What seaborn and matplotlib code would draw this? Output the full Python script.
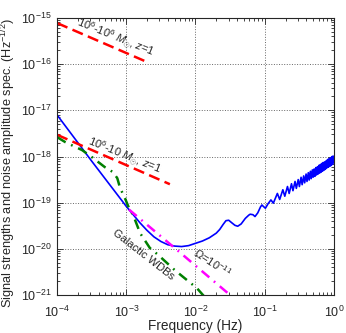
import numpy as np
import pandas as pd
import matplotlib
matplotlib.use("Agg")
import matplotlib.pyplot as plt
import matplotlib.ticker as mticker
import seaborn as sns

# ---- data (log10 of frequency / amplitude) ----
# detector noise curve, smooth part + first visible wiggles
blue_logf = [-4.0, -3.5, -3.0, -2.9, -2.8, -2.7, -2.6, -2.5, -2.4, -2.3, -2.2,
             -2.1, -2.0, -1.9, -1.8, -1.7, -1.65, -1.6, -1.56, -1.52, -1.48,
             -1.43, -1.39, -1.34, -1.28, -1.23, -1.21, -1.17, -1.14, -1.10,
             -1.06, -1.04, -1.02, -0.99, -0.95, -0.91, -0.875]
blue_logh = [-17.10, -18.10, -19.08, -19.26, -19.44, -19.60, -19.74, -19.84,
             -19.91, -19.94, -19.95, -19.93, -19.88, -19.83, -19.76, -19.66,
             -19.58, -19.47, -19.39, -19.38, -19.43, -19.49, -19.51, -19.46,
             -19.34, -19.27, -19.25, -19.26, -19.30, -19.22, -19.09, -19.05,
             -19.08, -19.12, -19.02, -18.94, -19.01]
# dense oscillations above ~0.15 Hz: peak / dip pairs (Hz, log10 h)
peak_f = [0.1525, 0.183, 0.2135, 0.244, 0.2745, 0.305, 0.3355, 0.366, 0.3965,
          0.427, 0.4575, 0.488, 0.5185, 0.549, 0.5795, 0.61, 0.6405, 0.671,
          0.7015, 0.732, 0.7625, 0.793, 0.8235, 0.854, 0.8845, 0.915, 0.9455,
          0.976]
peak_h = [-18.80, -18.72, -18.65, -18.59, -18.54, -18.50, -18.45, -18.42,
          -18.38, -18.35, -18.32, -18.29, -18.27, -18.24, -18.22, -18.19,
          -18.17, -18.15, -18.13, -18.12, -18.10, -18.08, -18.06, -18.05,
          -18.03, -18.02, -18.00, -17.99]
dip_f = [0.1647, 0.1952, 0.2257, 0.2562, 0.2867, 0.3172, 0.3477, 0.3782,
         0.4087, 0.4392, 0.4697, 0.5002, 0.5307, 0.5612, 0.5917, 0.6222,
         0.6527, 0.6832, 0.7137, 0.7442, 0.7747, 0.8052, 0.8357, 0.8662,
         0.8967, 0.9272, 0.9577, 1.0]
dip_h = [-18.93, -18.86, -18.80, -18.74, -18.69, -18.65, -18.61, -18.57,
         -18.54, -18.51, -18.48, -18.45, -18.43, -18.40, -18.38, -18.36,
         -18.34, -18.32, -18.30, -18.28, -18.26, -18.24, -18.23, -18.21,
         -18.20, -18.18, -18.17, -18.12]

# massive BH binaries (red dashed)
mbh1_logf = [-4.0, -2.69]
mbh1_logh = [-15.11, -15.96]
mbh2_logf = [-4.0, -2.37]
mbh2_logh = [-17.53, -18.60]

# galactic white dwarf binaries (green dash-dot)
wdb_logf = [-4.0, -3.88, -3.74, -3.64, -3.50, -3.31, -3.19, -3.13, -3.09,
            -3.02, -2.96, -2.90, -2.80, -2.66, -2.54, -2.30, -2.12, -1.98, -1.88]
wdb_logh = [-17.58, -17.69, -17.79, -17.86, -18.01, -18.23, -18.34, -18.47,
            -18.68, -18.90, -19.12, -19.27, -19.66, -19.98, -20.13, -20.46,
            -20.68, -20.85, -21.02]

# stochastic background Omega = 1e-11 (magenta dash-dot)
sgwb_logf = [-2.96, -2.27, -1.50]
sgwb_logh = [-19.15, -20.02, -21.00]

y_ticks = [1e-21, 1e-20, 1e-19, 1e-18, 1e-17, 1e-16, 1e-15]
x_ticks = [1e-4, 1e-3, 1e-2, 1e-1, 1e0]

# ---- build tables ----
osc_f, osc_h = [], []
for pf, ph, df_, dh in zip(peak_f, peak_h, dip_f, dip_h):
    osc_f += [pf, df_]
    osc_h += [ph, dh]
noise = pd.DataFrame({
    "f": list(10 ** np.array(blue_logf)) + osc_f,
    "h": list(10 ** np.array(blue_logh)) + list(10 ** np.array(osc_h)),
})
mbh1 = pd.DataFrame({"f": 10 ** np.array(mbh1_logf), "h": 10 ** np.array(mbh1_logh)})
mbh2 = pd.DataFrame({"f": 10 ** np.array(mbh2_logf), "h": 10 ** np.array(mbh2_logh)})
wdb = pd.DataFrame({"f": 10 ** np.array(wdb_logf), "h": 10 ** np.array(wdb_logh)})
sgwb = pd.DataFrame({"f": 10 ** np.array(sgwb_logf), "h": 10 ** np.array(sgwb_logh)})

# ---- style ----
sns.set_style("ticks")
plt.rcParams["font.family"] = ["Liberation Sans", "DejaVu Sans"]
plt.rcParams["mathtext.fontset"] = "custom"
plt.rcParams["mathtext.rm"] = "Liberation Sans"
plt.rcParams["mathtext.it"] = "Liberation Sans:italic"
plt.rcParams["mathtext.sf"] = "Liberation Sans"

fig = plt.figure(figsize=(3.46, 3.33), dpi=100)
ax = fig.add_axes([0.165, 0.114, 0.8, 0.832])

sns.lineplot(data=noise, x="f", y="h", ax=ax, color="#0000ff", lw=1.2,
             estimator=None, sort=False)
sns.lineplot(data=mbh1, x="f", y="h", ax=ax, color="#ff0000", lw=1.8,
             linestyle=(0, (4.5, 2.2)), estimator=None)
sns.lineplot(data=mbh2, x="f", y="h", ax=ax, color="#ff0000", lw=1.8,
             linestyle=(0, (4.5, 2.2)), estimator=None)
sns.lineplot(data=wdb, x="f", y="h", ax=ax, color="#008000", lw=1.8,
             linestyle=(0, (4, 2.4, 0.7, 2.4)), estimator=None)
sns.lineplot(data=sgwb, x="f", y="h", ax=ax, color="#ff00ff", lw=1.8,
             linestyle=(0, (4, 2.4, 0.7, 2.4)), estimator=None)

ax.set_xscale("log")
ax.set_yscale("log")
ax.set_xlim(1e-4, 1)
ax.set_ylim(1e-21, 1e-15)
ax.xaxis.set_major_locator(mticker.FixedLocator(x_ticks))
ax.yaxis.set_major_locator(mticker.FixedLocator(y_ticks))
ax.xaxis.set_major_formatter(mticker.LogFormatterSciNotation())
ax.yaxis.set_major_formatter(mticker.LogFormatterSciNotation())
ax.yaxis.set_minor_locator(mticker.LogLocator(base=10, subs=np.arange(2, 10), numticks=20))
ax.xaxis.set_minor_locator(mticker.LogLocator(base=10, subs=np.arange(2, 10), numticks=20))
ax.xaxis.set_minor_formatter(mticker.NullFormatter())
ax.yaxis.set_minor_formatter(mticker.NullFormatter())

ax.grid(True, which="major", linestyle=":", color="#666666", lw=0.7)
ax.tick_params(which="both", direction="in", top=True, right=True,
               labelsize=9, width=0.6)
ax.tick_params(axis="x", which="major", pad=7)
ax.tick_params(axis="y", which="major", pad=4)
ax.tick_params(which="major", length=4)
ax.tick_params(which="minor", length=2)
for s in ax.spines.values():
    s.set_linewidth(0.8)

ax.set_xlabel("Frequency (Hz)", fontsize=9.8)
ax.set_ylabel(r"Signal strengths and noise amplitude spec. (Hz$^{-1/2}$)",
              fontsize=9.2)
ax.xaxis.set_label_coords(0.5, -0.088)
ax.yaxis.set_label_coords(-0.14, 0.475)

ax.text(6.9e-4, 3.7e-16, r"$10^6$-$10^6$ $M_{\odot}$, $z$=1",
        rotation=-22, fontsize=8, ha="center", va="center")
ax.text(9.3e-4, 1.02e-18, r"$10^6$-$10$ $M_{\odot}$, $z$=1",
        rotation=-22, fontsize=8, ha="center", va="center")
ax.text(1.74e-3, 7.4e-21, "Galactic WDBs",
        rotation=-38, fontsize=8, ha="center", va="center")
ax.text(1.74e-2, 4.9e-21, r"$\Omega$=$10^{-11}$",
        rotation=-33, fontsize=8, ha="center", va="center")

fig.savefig("out.png", dpi=100)
